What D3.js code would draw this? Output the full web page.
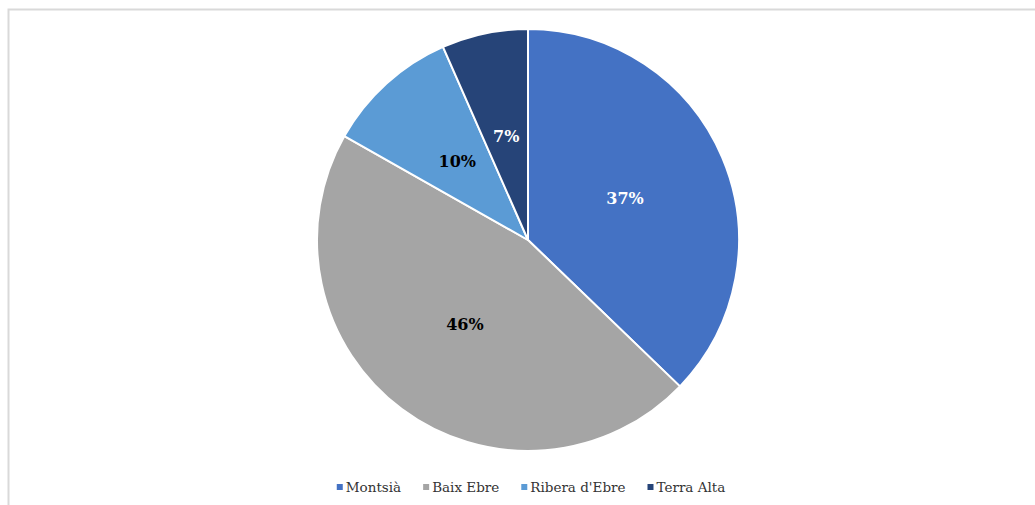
<!DOCTYPE html>
<html><head><meta charset="utf-8">
<script src="https://cdn.jsdelivr.net/npm/d3@7"></script>
<style>html,body{margin:0;padding:0;background:#fff;overflow:hidden}</style>
</head><body>
<svg id="c" width="1035" height="505"></svg>
<script>
const categories = ["Montsià", "Baix Ebre", "Ribera d'Ebre", "Terra Alta"];
const values = [37.2, 46.0, 10.2, 6.6];
const colors = ["#4472C4", "#A5A5A5", "#5B9BD5", "#264478"];
const labelColors = ["#ffffff", "#000000", "#000000", "#ffffff"];

const svg = d3.select("#c");
const font = "'DejaVu Serif', serif";
svg.append("rect").attr("x", 8.5).attr("y", 9.5).attr("width", 1040).attr("height", 510)
  .attr("fill", "#fff").attr("stroke", "#d9d9d9").attr("stroke-width", 2);

const cx = 528, cy = 240, r = 211;
const total = d3.sum(values);
const pie = d3.pie().sort(null).value(d => d);
const arcs = pie(values);
const arc = d3.arc().innerRadius(0).outerRadius(r);
const g = svg.append("g").attr("transform", `translate(${cx},${cy})`);
g.selectAll("path").data(arcs).join("path")
  .attr("d", arc).attr("fill", (d, i) => colors[i])
  .attr("stroke", "#fff").attr("stroke-width", 2).attr("stroke-linejoin", "round");
g.selectAll("text").data(arcs).join("text")
  .attr("transform", d => `translate(${arc.centroid(d)})`)
  .attr("text-anchor", "middle").attr("dominant-baseline", "central")
  .attr("font-family", font).attr("font-weight", "bold").attr("font-size", 16)
  .attr("fill", (d, i) => labelColors[i])
  .text(d => Math.round(d.value / total * 100) + "%");

// legend
const lg = svg.append("g").attr("font-family", font).attr("font-size", 13.5).attr("fill", "#333333");
const items = lg.selectAll("g").data(categories).join("g");
items.append("rect").attr("width", 6).attr("height", 6).attr("y", -3)
  .attr("fill", (d, i) => colors[i]);
items.append("text").attr("x", 9).attr("dominant-baseline", "central").text(d => d);
let x = 0; const gap = 22;
items.each(function () {
  const w = this.getBBox().width;
  d3.select(this).attr("data-w", w);
});
const widths = items.nodes().map(n => +n.getAttribute("data-w"));
const totalW = d3.sum(widths) + gap * (widths.length - 1);
x = 531 - totalW / 2;
items.attr("transform", (d, i) => {
  const t = `translate(${x},487)`; x += widths[i] + gap; return t;
});
</script>
</body></html>
